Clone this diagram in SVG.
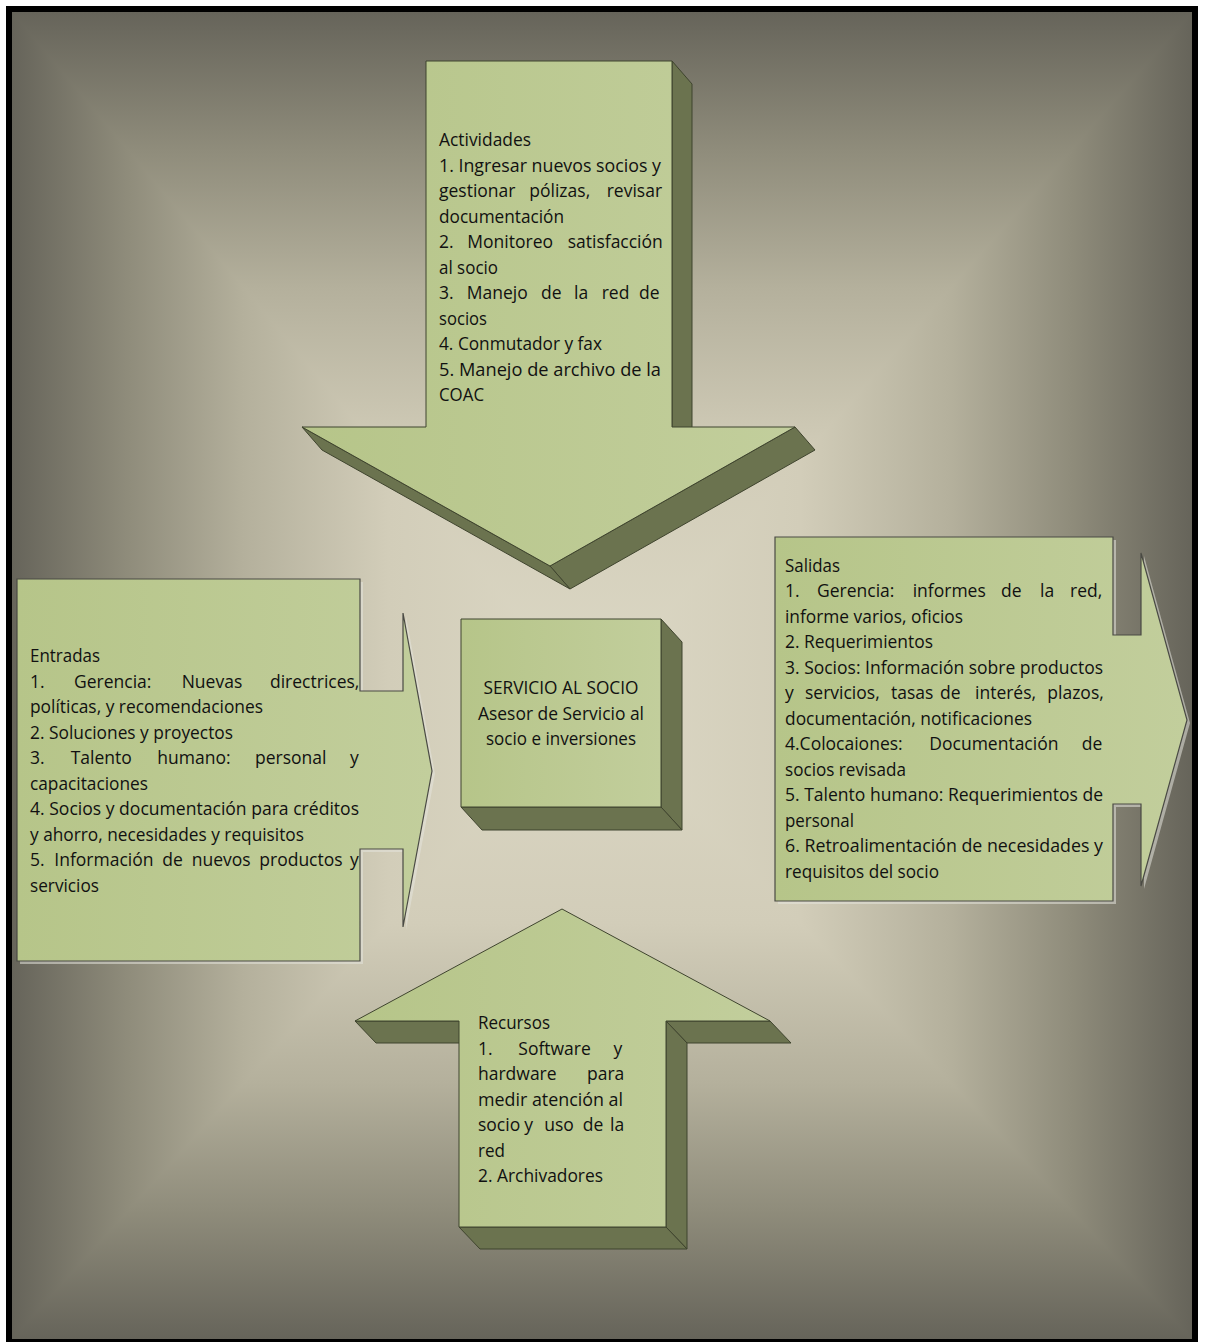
<svg xmlns="http://www.w3.org/2000/svg" width="1205" height="1342" viewBox="0 0 1205 1342">
<defs>
<linearGradient id="bgT" gradientUnits="userSpaceOnUse" x1="0" y1="700" x2="0" y2="12">
<stop offset="0" stop-color="#dcd8c5"/><stop offset="0.35" stop-color="#d2cdb9"/><stop offset="0.6" stop-color="#b4b09c"/><stop offset="0.8" stop-color="#8f8c7b"/><stop offset="1" stop-color="#66645a"/>
</linearGradient>
<linearGradient id="bgB" gradientUnits="userSpaceOnUse" x1="0" y1="700" x2="0" y2="1339">
<stop offset="0" stop-color="#dcd8c5"/><stop offset="0.35" stop-color="#d2cdb9"/><stop offset="0.6" stop-color="#b4b09c"/><stop offset="0.8" stop-color="#8f8c7b"/><stop offset="1" stop-color="#66645a"/>
</linearGradient>
<linearGradient id="bgL" gradientUnits="userSpaceOnUse" x1="590" y1="0" x2="12" y2="0">
<stop offset="0" stop-color="#dcd8c5"/><stop offset="0.35" stop-color="#d2cdb9"/><stop offset="0.6" stop-color="#b4b09c"/><stop offset="0.8" stop-color="#8f8c7b"/><stop offset="1" stop-color="#66645a"/>
</linearGradient>
<linearGradient id="bgR" gradientUnits="userSpaceOnUse" x1="590" y1="0" x2="1192" y2="0">
<stop offset="0" stop-color="#dcd8c5"/><stop offset="0.35" stop-color="#d2cdb9"/><stop offset="0.6" stop-color="#b4b09c"/><stop offset="0.8" stop-color="#8f8c7b"/><stop offset="1" stop-color="#66645a"/>
</linearGradient>
<linearGradient id="g" x1="0" y1="0" x2="1" y2="0">
<stop offset="0" stop-color="#b6c589"/><stop offset="1" stop-color="#c2ce9c"/>
</linearGradient>
<style>
.t{font-family:"Open Sans",Lato,"Liberation Sans",sans-serif;font-size:17.5px;fill:#111111}
.c{text-anchor:middle}
.front{fill:url(#g);stroke:#3f442e;stroke-width:1;stroke-linejoin:round}
.side{fill:#6b734f;stroke:#3f442e;stroke-width:1;stroke-linejoin:round}
.flat{fill:url(#g);stroke:#4a4a44;stroke-width:1.2;stroke-linejoin:miter}
.shadow{fill:#e4e4dc;opacity:0.55}
</style>
</defs>
<rect x="0" y="0" width="1205" height="1342" fill="#ffffff"/>
<g id="background" shape-rendering="crispEdges">
<polygon points="12,12 1192,12 590,700" fill="url(#bgT)"/>
<polygon points="12,1339 1192,1339 590,700" fill="url(#bgB)"/>
<polygon points="12,12 12,1339 590,700" fill="url(#bgL)"/>
<polygon points="1192,12 1192,1339 590,700" fill="url(#bgR)"/>
</g>
<rect x="9" y="9" width="1186" height="1333" fill="none" stroke="#000000" stroke-width="6"/>
<g id="connectors"></g>

<g id="actividades">
<polygon class="side" points="672,61 692,84 692,450 672,427"/>
<polygon class="side" points="795,427 815,450 570,589 550,566"/>
<polygon class="side" points="302,427 550,566 570,589 322,450"/>
<polygon class="front" points="426,61 672,61 672,427 795,427 550,566 302,427 426,427"/>
<text class="t" x="439" y="146" textLength="92" lengthAdjust="spacingAndGlyphs">Actividades</text>
<text class="t" x="439" y="171.5" textLength="222" lengthAdjust="spacingAndGlyphs">1. Ingresar nuevos socios y</text>
<text class="t" y="197"><tspan x="439">gestionar </tspan><tspan x="529.3">pólizas, </tspan><tspan x="606.7">revisar</tspan></text>
<text class="t" x="439" y="222.5" textLength="125" lengthAdjust="spacingAndGlyphs">documentación</text>
<text class="t" y="248"><tspan x="439">2. </tspan><tspan x="467.3">Monitoreo </tspan><tspan x="567.7">satisfacción</tspan></text>
<text class="t" x="439" y="273.5" textLength="59" lengthAdjust="spacingAndGlyphs">al socio</text>
<text class="t" y="299"><tspan x="439">3. </tspan><tspan x="466.7">Manejo </tspan><tspan x="541">de </tspan><tspan x="574">la </tspan><tspan x="601.7">red </tspan><tspan x="639">de</tspan></text>
<text class="t" x="439" y="324.5" textLength="48" lengthAdjust="spacingAndGlyphs">socios</text>
<text class="t" x="439" y="350" textLength="163" lengthAdjust="spacingAndGlyphs">4. Conmutador y fax</text>
<text class="t" x="439" y="375.5" textLength="222" lengthAdjust="spacingAndGlyphs">5. Manejo de archivo de la</text>
<text class="t" x="439" y="401" textLength="45" lengthAdjust="spacingAndGlyphs">COAC</text>
</g>

<g id="entradas">
<polygon class="shadow" transform="translate(3,3)" points="17,579 360,579 360,691 403,691 403,613 432,771 403,927 403,849 360,849 360,961 17,961"/>
<polygon class="flat" points="17,579 360,579 360,691 403,691 403,613 432,771 403,927 403,849 360,849 360,961 17,961"/>
<text class="t" x="30" y="662" textLength="70" lengthAdjust="spacingAndGlyphs">Entradas</text>
<text class="t" y="687.5"><tspan x="30">1. </tspan><tspan x="74">Gerencia: </tspan><tspan x="181.7">Nuevas </tspan><tspan x="270">directrices,</tspan></text>
<text class="t" x="30" y="713" textLength="233" lengthAdjust="spacingAndGlyphs">políticas, y recomendaciones</text>
<text class="t" x="30" y="738.5" textLength="203" lengthAdjust="spacingAndGlyphs">2. Soluciones y proyectos</text>
<text class="t" y="764"><tspan x="30">3. </tspan><tspan x="70.7">Talento </tspan><tspan x="157.3">humano: </tspan><tspan x="255">personal </tspan><tspan x="350">y</tspan></text>
<text class="t" x="30" y="789.5" textLength="118" lengthAdjust="spacingAndGlyphs">capacitaciones</text>
<text class="t" x="30" y="815" textLength="329" lengthAdjust="spacingAndGlyphs">4. Socios y documentación para créditos</text>
<text class="t" x="30" y="840.5" textLength="274" lengthAdjust="spacingAndGlyphs">y ahorro, necesidades y requisitos</text>
<text class="t" y="866"><tspan x="30">5. </tspan><tspan x="54.3">Información </tspan><tspan x="162.3">de </tspan><tspan x="191.7">nuevos </tspan><tspan x="259.3">productos </tspan><tspan x="350">y</tspan></text>
<text class="t" x="30" y="891.5" textLength="69" lengthAdjust="spacingAndGlyphs">servicios</text>
</g>

<g id="servicio">
<polygon class="side" points="661,619 682,642 682,830 661,807"/>
<polygon class="side" points="461,807 661,807 682,830 482,830"/>
<rect class="front" x="461" y="619" width="200" height="188"/>
<text class="t c" x="561" y="694" textLength="155" lengthAdjust="spacingAndGlyphs">SERVICIO AL SOCIO</text>
<text class="t c" x="561" y="719.5" textLength="166" lengthAdjust="spacingAndGlyphs">Asesor de Servicio al</text>
<text class="t c" x="561" y="745" textLength="150" lengthAdjust="spacingAndGlyphs">socio e inversiones</text>
</g>

<g id="salidas">
<polygon class="shadow" transform="translate(3,3)" points="775,537 1113,537 1113,635 1141,635 1141,553 1187,720 1141,886 1141,804 1113,804 1113,901 775,901"/>
<polygon class="flat" points="775,537 1113,537 1113,635 1141,635 1141,553 1187,720 1141,886 1141,804 1113,804 1113,901 775,901"/>
<text class="t" x="785" y="571.5" textLength="55" lengthAdjust="spacingAndGlyphs">Salidas</text>
<text class="t" y="597"><tspan x="785">1. </tspan><tspan x="817">Gerencia: </tspan><tspan x="912.7">informes </tspan><tspan x="1001">de </tspan><tspan x="1040">la </tspan><tspan x="1070">red,</tspan></text>
<text class="t" x="785" y="622.5" textLength="178" lengthAdjust="spacingAndGlyphs">informe varios, oficios</text>
<text class="t" x="785" y="648" textLength="148" lengthAdjust="spacingAndGlyphs">2. Requerimientos</text>
<text class="t" x="785" y="673.5" textLength="318" lengthAdjust="spacingAndGlyphs">3. Socios: Información sobre productos</text>
<text class="t" y="699"><tspan x="785">y </tspan><tspan x="805">servicios, </tspan><tspan x="891">tasas </tspan><tspan x="940">de </tspan><tspan x="975">interés, </tspan><tspan x="1047.3">plazos,</tspan></text>
<text class="t" x="785" y="724.5" textLength="247" lengthAdjust="spacingAndGlyphs">documentación, notificaciones</text>
<text class="t" y="750"><tspan x="785">4.Colocaiones: </tspan><tspan x="929.3">Documentación </tspan><tspan x="1081.7">de</tspan></text>
<text class="t" x="785" y="775.5" textLength="121" lengthAdjust="spacingAndGlyphs">socios revisada</text>
<text class="t" x="785" y="801" textLength="318" lengthAdjust="spacingAndGlyphs">5. Talento humano: Requerimientos de</text>
<text class="t" x="785" y="826.5" textLength="69" lengthAdjust="spacingAndGlyphs">personal</text>
<text class="t" x="785" y="852" textLength="318" lengthAdjust="spacingAndGlyphs">6. Retroalimentación de necesidades y</text>
<text class="t" x="785" y="877.5" textLength="154" lengthAdjust="spacingAndGlyphs">requisitos del socio</text>
</g>

<g id="recursos">
<polygon class="side" points="355,1021 459,1021 480,1043 376,1043"/>
<polygon class="side" points="666,1021 770,1021 791,1043 687,1043"/>
<polygon class="side" points="666,1021 687,1043 687,1249 666,1227"/>
<polygon class="side" points="459,1227 666,1227 687,1249 480,1249"/>
<polygon class="front" points="562,909 770,1021 666,1021 666,1227 459,1227 459,1021 355,1021"/>
<text class="t" x="478" y="1029" textLength="72" lengthAdjust="spacingAndGlyphs">Recursos</text>
<text class="t" y="1054.5"><tspan x="478">1. </tspan><tspan x="518.3">Software </tspan><tspan x="613.5">y</tspan></text>
<text class="t" y="1080"><tspan x="478">hardware </tspan><tspan x="587">para</tspan></text>
<text class="t" x="478" y="1105.5" textLength="145" lengthAdjust="spacingAndGlyphs">medir atención al</text>
<text class="t" y="1131"><tspan x="478">socio </tspan><tspan x="524.3">y </tspan><tspan x="544.3">uso </tspan><tspan x="582.7">de </tspan><tspan x="610">la</tspan></text>
<text class="t" x="478" y="1156.5" textLength="27" lengthAdjust="spacingAndGlyphs">red</text>
<text class="t" x="478" y="1182" textLength="125" lengthAdjust="spacingAndGlyphs">2. Archivadores</text>
</g>
</svg>
